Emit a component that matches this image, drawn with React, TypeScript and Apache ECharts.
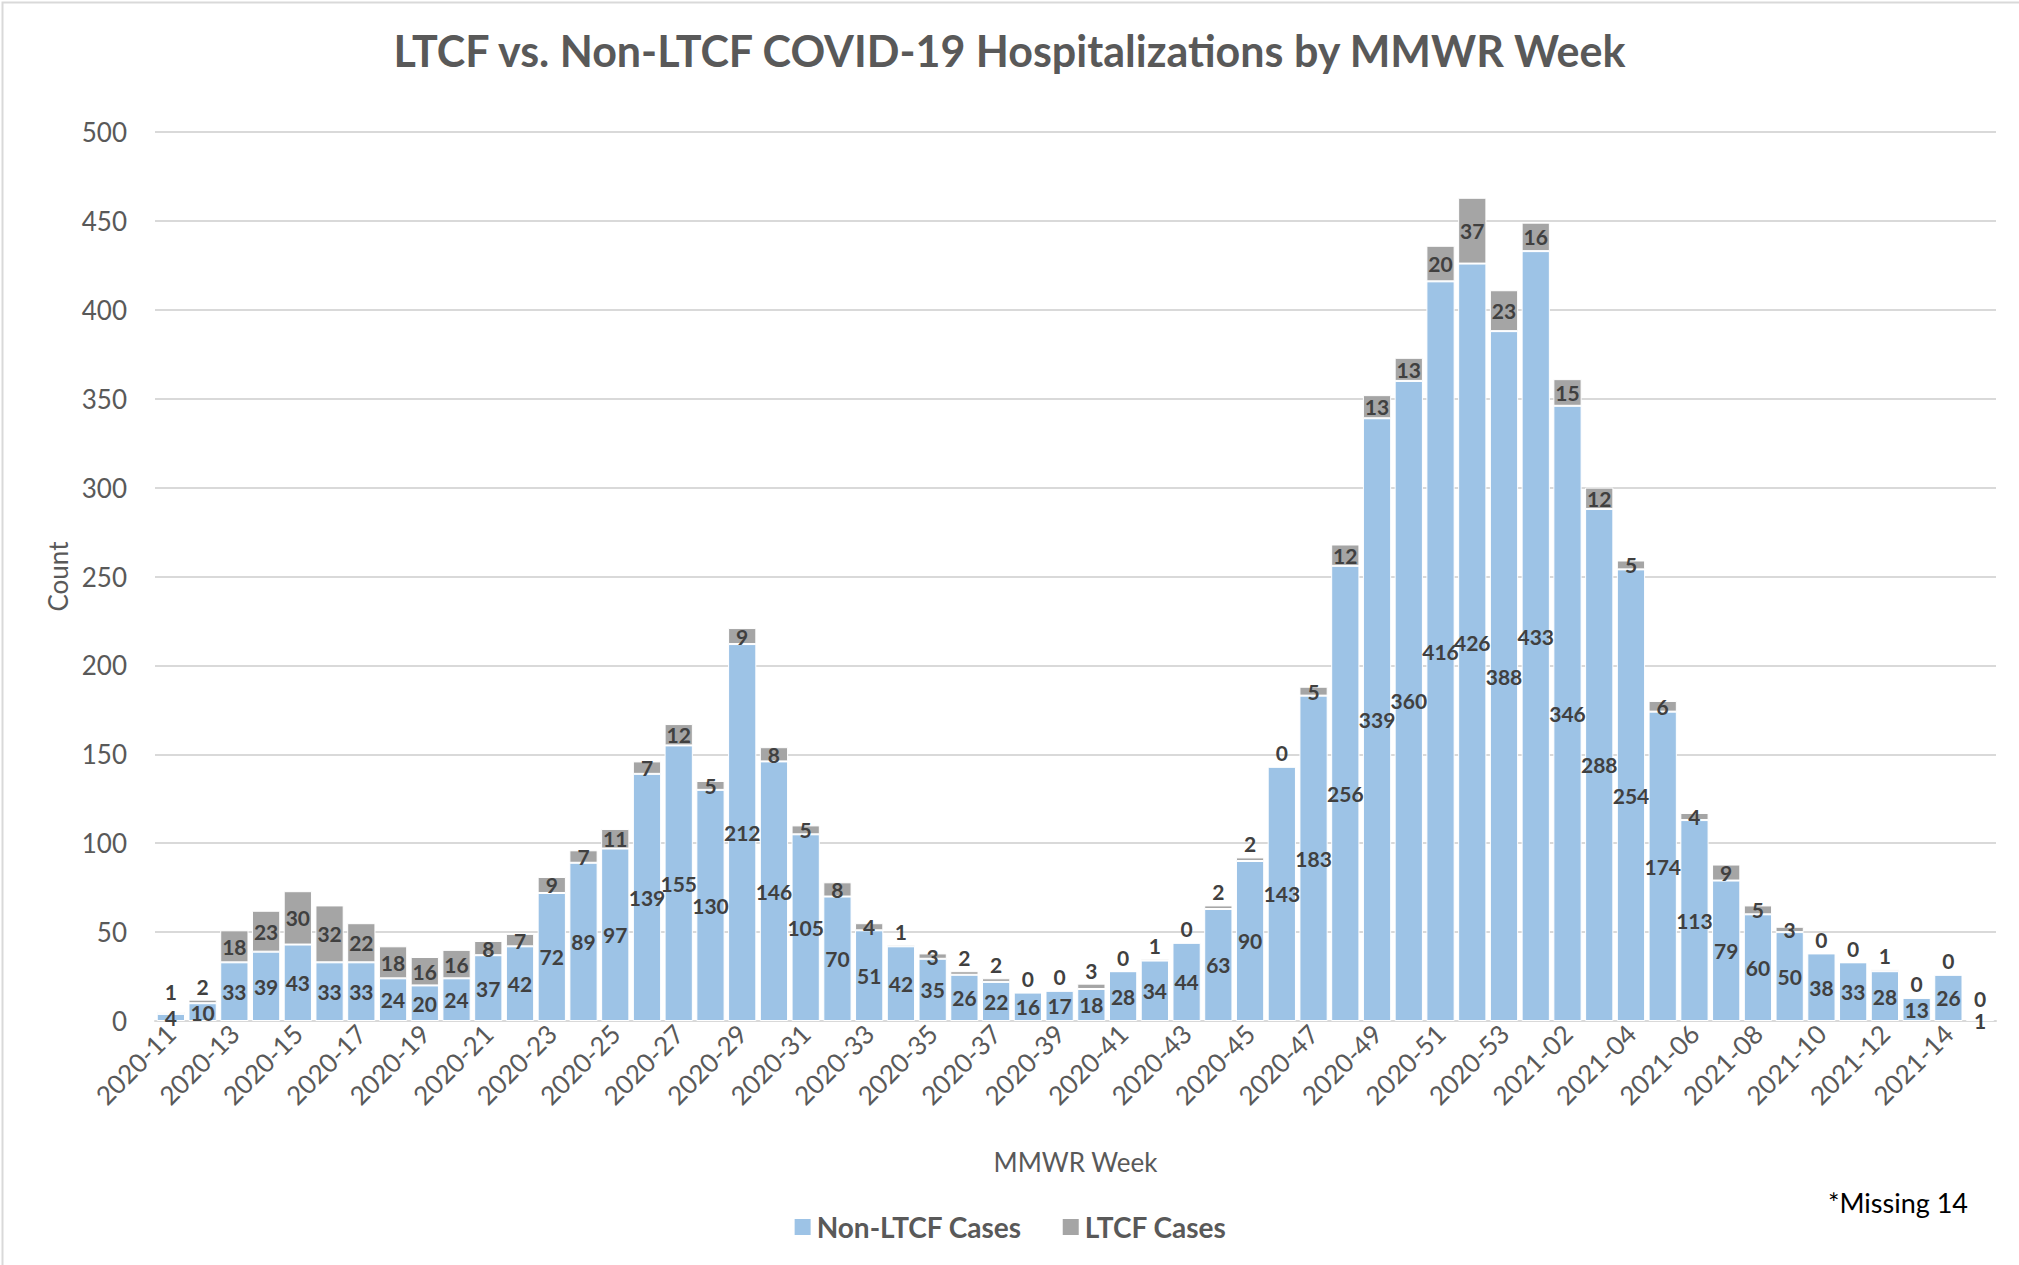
import React, { useEffect, useRef } from 'react';
import * as echarts from 'echarts';

const categories = [
  '2020-11', '2020-12', '2020-13', '2020-14', '2020-15', '2020-16', '2020-17', '2020-18', '2020-19', '2020-20',
  '2020-21', '2020-22', '2020-23', '2020-24', '2020-25', '2020-26', '2020-27', '2020-28', '2020-29', '2020-30',
  '2020-31', '2020-32', '2020-33', '2020-34', '2020-35', '2020-36', '2020-37', '2020-38', '2020-39', '2020-40',
  '2020-41', '2020-42', '2020-43', '2020-44', '2020-45', '2020-46', '2020-47', '2020-48', '2020-49', '2020-50',
  '2020-51', '2020-52', '2020-53', '2021-01', '2021-02', '2021-03', '2021-04', '2021-05', '2021-06', '2021-07',
  '2021-08', '2021-09', '2021-10', '2021-11', '2021-12', '2021-13', '2021-14', '2021-15',
];

const nonLtcfCases = [
  4, 10, 33, 39, 43, 33, 33, 24, 20, 24,
  37, 42, 72, 89, 97, 139, 155, 130, 212, 146,
  105, 70, 51, 42, 35, 26, 22, 16, 17, 18,
  28, 34, 44, 63, 90, 143, 183, 256, 339, 360,
  416, 426, 388, 433, 346, 288, 254, 174, 113, 79,
  60, 50, 38, 33, 28, 13, 26, 1,
];

const ltcfCases = [
  1, 2, 18, 23, 30, 32, 22, 18, 16, 16,
  8, 7, 9, 7, 11, 7, 12, 5, 9, 8,
  5, 8, 4, 1, 3, 2, 2, 0, 0, 3,
  0, 1, 0, 2, 2, 0, 5, 12, 13, 13,
  20, 37, 23, 16, 15, 12, 5, 6, 4, 9,
  5, 3, 0, 0, 1, 0, 0, 0,
];

const yTicks = { min: 0, max: 500, interval: 50 };

const titleText = 'LTCF vs. Non-LTCF COVID-19 Hospitalizations by MMWR Week';
const noteText = '*Missing 14';

const FONT = 'Lato';
const BLUE = '#9DC3E6';
const GRAY = '#A5A5A5';
const TEXT = '#595959';
const LABEL = '#404040';

export default function App() {
  const ref = useRef<HTMLDivElement>(null);

  useEffect(() => {
    if (!ref.current) return;
    const chart = echarts.init(ref.current, undefined, { renderer: 'svg' });

    const labelBase = {
      show: true,
      fontFamily: FONT,
      fontWeight: 'bold' as const,
      fontSize: 21,
      color: LABEL,
    };

    // LTCF labels: centred in their segment, or set just above the bar when the
    // segment is too thin or the whole bar too short for two labels.
    const ltcfData = ltcfCases.map((v, i) => {
      const total = nonLtcfCases[i] + v;
      const above = v <= 2 || total < 25;
      return {
        value: v,
        label: above
          ? { position: 'top', distance: total < 8 ? 10 : 3 }
          : { position: 'inside' },
      };
    });

    chart.setOption({
      animation: false,
      backgroundColor: '#ffffff',
      textStyle: { fontFamily: FONT },
      title: {
        text: titleText,
        left: 'center',
        top: 24,
        textStyle: { fontFamily: FONT, fontWeight: 'bold', fontSize: 43, color: TEXT },
      },
      legend: {
        data: ['Non-LTCF Cases', 'LTCF Cases'],
        left: 'center',
        top: 1208,
        icon: 'rect',
        itemWidth: 18,
        itemHeight: 18,
        itemGap: 39,
        textStyle: { fontFamily: FONT, fontWeight: 'bold', fontSize: 28, color: TEXT },
      },
      grid: { left: 155, right: 23, top: 132, bottom: 244, containLabel: false },
      xAxis: {
        type: 'category',
        data: categories,
        name: 'MMWR Week',
        nameLocation: 'middle',
        nameGap: 128,
        nameTextStyle: { fontFamily: FONT, fontSize: 26, color: TEXT },
        axisLine: { show: true, lineStyle: { color: '#D9D9D9', width: 2 } },
        axisTick: { show: false },
        axisLabel: { interval: 1, rotate: 45, fontFamily: FONT, fontSize: 26, color: TEXT, margin: 8 },
      },
      yAxis: {
        type: 'value',
        min: yTicks.min,
        max: yTicks.max,
        interval: yTicks.interval,
        name: 'Count',
        nameLocation: 'middle',
        nameGap: 84,
        nameRotate: 90,
        nameTextStyle: { fontFamily: FONT, fontSize: 26, color: TEXT },
        axisLine: { show: false },
        axisTick: { show: false },
        axisLabel: { fontFamily: FONT, fontSize: 26, color: TEXT, margin: 28 },
        splitLine: { lineStyle: { color: '#D9D9D9', width: 2 } },
      },
      series: [
        {
          name: 'Non-LTCF Cases',
          type: 'bar',
          stack: 'total',
          barCategoryGap: '11%',
          data: nonLtcfCases,
          itemStyle: { color: BLUE, borderColor: '#ffffff', borderWidth: 1 },
          label: { ...labelBase, position: 'inside' },
        },
        {
          name: 'LTCF Cases',
          type: 'bar',
          stack: 'total',
          barCategoryGap: '11%',
          data: ltcfData,
          itemStyle: { color: GRAY, borderColor: '#ffffff', borderWidth: 1 },
          label: { ...labelBase },
        },
      ],
      graphic: [
        {
          type: 'rect',
          left: 0,
          top: 0,
          shape: { x: 1, y: 1, width: 2100, height: 1400 },
          style: { fill: 'none', stroke: '#D9D9D9', lineWidth: 2 },
          silent: true,
        },
        {
          type: 'text',
          left: 1828,
          top: 1189,
          style: { text: noteText, fontFamily: FONT, fontSize: 27, fill: '#000000' },
        },
      ],
    });

    return () => chart.dispose();
  }, []);

  return (
    <div
      ref={ref}
      style={{ position: 'absolute', left: 0, top: 0, width: 2019, height: 1265 }}
    />
  );
}
